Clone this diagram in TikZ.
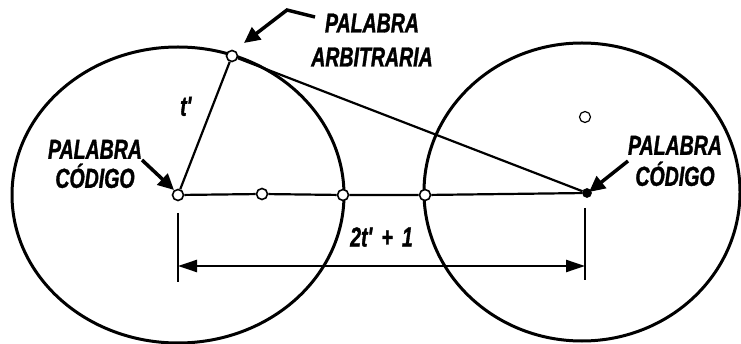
\documentclass[tikz,border=0pt]{standalone}
\usepackage{fontspec}
\newfontfamily\fuente{Liberation Sans}[FakeStretch=0.71,FakeBold=1.2]
\usetikzlibrary{arrows.meta,backgrounds}

\begin{document}
\begin{tikzpicture}[
    x=1pt, y=-1pt,
    rim/.style={line width=3pt},
    linea/.style={line width=2.2pt},
    punto/.style={draw, circle, line width=1.6pt, fill=white, inner sep=0pt, minimum size=11pt},
    lleno/.style={punto, fill=black, minimum size=8pt},
    rotulo/.style={font={\fuente\bfseries\itshape\fontsize{27.5}{34}\selectfont}, align=center, inner sep=0pt},
    flecha/.style={line width=3.5pt, -{Triangle[length=16pt,width=15pt]}},
    cota/.style={line width=2.4pt, {Triangle[length=19pt,width=12pt]}-{Triangle[length=19pt,width=12pt]}},
  ]
  \useasboundingbox (0,0) rectangle (741,344);
  % --- Palabras (puntos) ---
  \node[punto] (cL) at (178,195) {};
  \node[punto] (m1) at (262,194) {};
  \node[punto] (m2) at (343,195) {};
  \node[punto] (m3) at (425,195) {};
  \node[lleno] (cR) at (587,193) {};
  \node[punto] (arb) at (232,56) {};
  \node[punto, line width=1.2pt] (p) at (585,117) {};
  \coordinate (oR) at (582,192);

  % --- Esferas de decodificacion ---
  \begin{scope}[on background layer]
    \draw[rim] (cL) ellipse [x radius=166pt, y radius=148pt];
    \draw[rim] (oR) ellipse [x radius=158pt, y radius=149pt];
  \end{scope}

  % Segmentos
  \draw[linea] (arb) -- node[rotulo, pos=0.35, left=20pt] {t'} (cL);
  \draw[linea] (cL) -- (m1) -- (m2) -- (m3) -- (cR);
  \draw[linea] (arb) -- (cR);

  % --- Rotulos ---
  \node[rotulo] (labA) at (372,40) {PALABRA\\ARBITRARIA};
  \node[rotulo, font={\fuente\bfseries\itshape\fontsize{27.5}{29}\selectfont}] (labL) at (95,164) {PALABRA\\CÓDIGO};
  \node[rotulo, font={\fuente\bfseries\itshape\fontsize{27.5}{31}\selectfont}] (labR) at (675,161) {PALABRA\\CÓDIGO};

  % Flechas de los rotulos
  \coordinate (kA) at (315,17);
  \coordinate (tA) at (244,43);
  \coordinate (kL) at (142,160);
  \coordinate (tL) at (174,190);
  \coordinate (kR) at (628,161);
  \coordinate (tR) at (589,192);
  \draw[flecha] (kA) -- (287,10) -- (tA);
  \draw[flecha] (kL) -- (tL);
  \draw[flecha] (kR) -- (tR);

  % --- Cota 2t'+1 ---
  \coordinate (tlT) at (178,213);
  \coordinate (tlB) at (178,282);
  \coordinate (trT) at (585,208);
  \coordinate (trB) at (585,280);
  \coordinate (dL) at (178,266);
  \coordinate (dR) at (585,266);
  \draw[linea] (tlT) -- (tlB);
  \draw[linea] (trT) -- (trB);
  \draw[cota] (dL) -- node[rotulo, above=18pt, pos=0.5] (lab2) {2t'\,\,+\,\,1} (dR);
\end{tikzpicture}
\end{document}
